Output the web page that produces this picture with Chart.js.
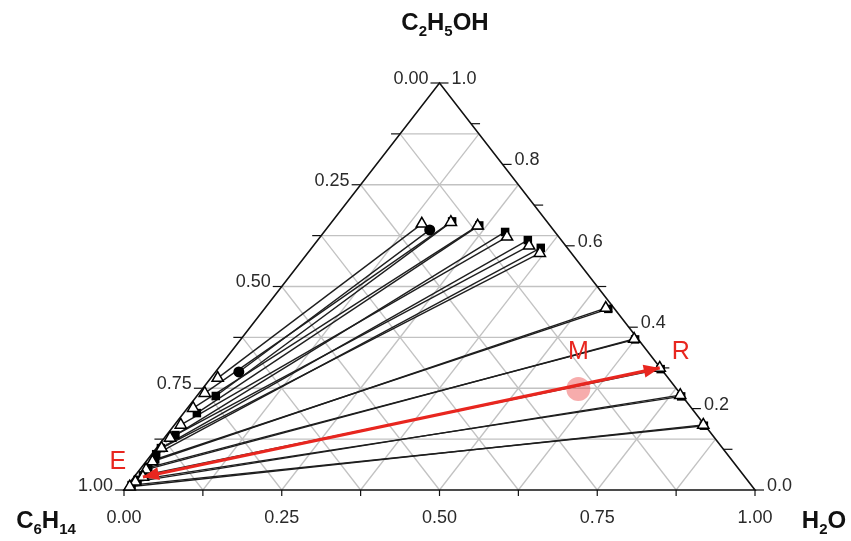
<!DOCTYPE html>
<html>
<head>
<meta charset="utf-8">
<script src="https://cdn.jsdelivr.net/npm/chart.js@4"></script>
<style>
  html, body { margin: 0; padding: 0; background: #fff; }
  #wrap { width: 851px; height: 541px; }
</style>
</head>
<body>
<div id="wrap"><canvas id="tern" width="851" height="541"></canvas></div>
<script>
// mass fractions (water, ethanol); hexane = 1 - water - ethanol
// experimental tie lines (open triangles)
const expRaffWater   = [0.145, 0.189, 0.236, 0.296, 0.342, 0.368, 0.540, 0.623, 0.699, 0.765, 0.838];
const expRaffEthanol = [0.654, 0.658, 0.649, 0.622, 0.600, 0.582, 0.447, 0.371, 0.300, 0.233, 0.160];
const expExtWater    = [0.011, 0.009, 0.009, 0.010, 0.009, 0.008, 0.010, 0.010, 0.014, 0.008, 0.005];
const expExtEthanol  = [0.275, 0.238, 0.201, 0.160, 0.128, 0.103, 0.070, 0.050, 0.032, 0.020, 0.008];
// calculated tie lines (filled squares)
const calcRaffWater   = [0.190, 0.238, 0.287, 0.333, 0.363, 0.545, 0.625, 0.702, 0.768, 0.840];
const calcRaffEthanol = [0.660, 0.650, 0.634, 0.614, 0.595, 0.445, 0.370, 0.297, 0.230, 0.158];
const calcExtWater    = [0.030, 0.021, 0.014, 0.007, 0.007, 0.012, 0.011, 0.012, 0.009, 0.006];
const calcExtEthanol  = [0.231, 0.189, 0.135, 0.103, 0.088, 0.075, 0.055, 0.036, 0.025, 0.012];
// other tie line (filled circles)
const litRaffWater = [0.165], litRaffEthanol = [0.639];
const litExtWater  = [0.037], litExtEthanol  = [0.290];
// mixture point M and the E-R line
const mixWater = [0.596], mixEthanol = [0.248];
const arrowWater = [0.014, 0.699], arrowEthanol = [0.032, 0.300];

const bottomTicks = ['0.00', '0.25', '0.50', '0.75', '1.00'];
const leftTicks   = ['1.00', '0.75', '0.50', '0.25', '0.00'];
const rightTicks  = ['0.0', '0.2', '0.4', '0.6', '0.8', '1.0'];

const RED = '#e8261f';
const toXY = (w, e) => ({ x: w + e / 2, y: e });

const datasets = [];
// E-R arrow line
datasets.push({
  data: arrowWater.map((w, i) => toXY(w, arrowEthanol[i])),
  showLine: true, borderColor: RED, borderWidth: 3.2, pointRadius: 0, order: 0
});
datasets.push({
  data: mixWater.map((w, i) => toXY(w, mixEthanol[i])),
  pointRadius: 12, pointBackgroundColor: 'rgba(238,70,70,0.45)', pointBorderWidth: 0, order: 1
});
// markers
const pts = (ws, es) => ws.map((w, i) => toXY(w, es[i]));
datasets.push({
  data: pts(expRaffWater, expRaffEthanol).concat(pts(expExtWater, expExtEthanol)),
  pointStyle: 'triangle', pointRadius: 6.5, pointBackgroundColor: '#fff',
  pointBorderColor: '#000', pointBorderWidth: 1.5, order: 2
});
datasets.push({
  data: pts(calcRaffWater, calcRaffEthanol).concat(pts(calcExtWater, calcExtEthanol)),
  pointStyle: 'rect', pointRadius: 6, pointBackgroundColor: '#000',
  pointBorderColor: '#000', pointBorderWidth: 0, order: 3
});
datasets.push({
  data: pts(litRaffWater, litRaffEthanol).concat(pts(litExtWater, litExtEthanol)),
  pointStyle: 'circle', pointRadius: 5.5, pointBackgroundColor: '#000',
  pointBorderColor: '#000', pointBorderWidth: 0, order: 3
});
// tie lines
function tie(rw, re, ew, ee) {
  rw.forEach((w, i) => {
    datasets.push({
      data: [toXY(ew[i], ee[i]), toXY(w, re[i])],
      showLine: true, borderColor: '#1e1e1e', borderWidth: 1.4, pointRadius: 0, order: 5
    });
  });
}
tie(expRaffWater, expRaffEthanol, expExtWater, expExtEthanol);
tie(calcRaffWater, calcRaffEthanol, calcExtWater, calcExtEthanol);
tie(litRaffWater, litRaffEthanol, litExtWater, litExtEthanol);

// formula with subscripts, parts = [[text, isSub], ...]
function chem(ctx, parts, cx, y) {
  const big = 'bold 24px "Liberation Sans", Arial, sans-serif';
  const small = 'bold 15px "Liberation Sans", Arial, sans-serif';
  let total = 0;
  parts.forEach(p => { ctx.font = p[1] ? small : big; total += ctx.measureText(p[0]).width; });
  let x = cx - total / 2;
  ctx.textAlign = 'left';
  ctx.textBaseline = 'alphabetic';
  parts.forEach(p => {
    ctx.font = p[1] ? small : big;
    ctx.fillText(p[0], x, p[1] ? y + 6 : y);
    x += ctx.measureText(p[0]).width;
  });
}

function arrowHead(ctx, tip, from) {
  const ang = Math.atan2(tip[1] - from[1], tip[0] - from[0]);
  const len = 16, half = 6.5;
  ctx.beginPath();
  ctx.moveTo(tip[0], tip[1]);
  ctx.lineTo(tip[0] - len * Math.cos(ang) + half * Math.sin(ang), tip[1] - len * Math.sin(ang) - half * Math.cos(ang));
  ctx.lineTo(tip[0] - len * Math.cos(ang) - half * Math.sin(ang), tip[1] - len * Math.sin(ang) + half * Math.cos(ang));
  ctx.closePath();
  ctx.fill();
}

const ternary = {
  id: 'ternary',
  beforeDatasetsDraw(chart) {
    const { ctx, scales: { x, y } } = chart;
    const P = (w, e) => [x.getPixelForValue(w + e / 2), y.getPixelForValue(e)];
    const seg = (a, b) => { ctx.beginPath(); ctx.moveTo(a[0], a[1]); ctx.lineTo(b[0], b[1]); ctx.stroke(); };
    ctx.save();
    // grid every 1/8
    ctx.strokeStyle = '#c2c2c2';
    ctx.lineWidth = 1.3;
    for (let k = 1; k < 8; k++) {
      const f = k / 8;
      seg(P(0, f), P(1 - f, f));
      seg(P(f, 0), P(f, 1 - f));
      seg(P(1 - f, 0), P(0, 1 - f));
    }
    // frame
    ctx.strokeStyle = '#111';
    ctx.lineWidth = 1.6;
    ctx.beginPath();
    const a = P(0, 0), b = P(1, 0), c = P(0, 1);
    ctx.moveTo(a[0], a[1]); ctx.lineTo(b[0], b[1]); ctx.lineTo(c[0], c[1]); ctx.closePath();
    ctx.stroke();
    // ticks
    ctx.lineWidth = 1.2;
    for (let k = 0; k <= 8; k++) {
      const p = P(k / 8, 0);
      seg(p, [p[0], p[1] + 6]);
      const q = P(0, k / 8);
      seg(q, [q[0] - 9, q[1]]);
    }
    for (let k = 0; k <= 10; k++) {
      const r = P(1 - k / 10, k / 10);
      seg(r, [r[0] + 9, r[1]]);
    }
    // tick labels
    ctx.fillStyle = '#2a2a2a';
    ctx.font = '18px "Liberation Sans", Arial, sans-serif';
    ctx.textBaseline = 'middle';
    ctx.textAlign = 'center';
    bottomTicks.forEach((t, i) => { const p = P(i / 4, 0); ctx.fillText(t, p[0], p[1] + 28); });
    ctx.textAlign = 'right';
    leftTicks.forEach((t, i) => { const p = P(0, i / 4); ctx.fillText(t, p[0] - 11, p[1] - 4); });
    ctx.textAlign = 'left';
    rightTicks.forEach((t, i) => { const p = P(1 - i / 5, i / 5); ctx.fillText(t, p[0] + 12, p[1] - 4); });
    // component names
    ctx.fillStyle = '#111';
    chem(ctx, [['C', 0], ['2', 1], ['H', 0], ['5', 1], ['OH', 0]], 445, 30);
    chem(ctx, [['C', 0], ['6', 1], ['H', 0], ['14', 1]], 46, 528);
    chem(ctx, [['H', 0], ['2', 1], ['O', 0]], 824, 528);
    ctx.restore();
  },
  afterDatasetsDraw(chart) {
    const { ctx, scales: { x, y } } = chart;
    const P = (w, e) => [x.getPixelForValue(w + e / 2), y.getPixelForValue(e)];
    ctx.save();
    ctx.fillStyle = RED;
    const e0 = P(arrowWater[0], arrowEthanol[0]);
    const r0 = P(arrowWater[1], arrowEthanol[1]);
    arrowHead(ctx, r0, e0);
    arrowHead(ctx, e0, r0);
    ctx.font = '25px "Liberation Sans", Arial, sans-serif';
    ctx.textAlign = 'center';
    ctx.textBaseline = 'middle';
    const m = P(mixWater[0], mixEthanol[0]);
    ctx.fillText('M', m[0], m[1] - 37);
    ctx.fillText('R', r0[0] + 21, r0[1] - 16);
    ctx.fillText('E', e0[0] - 25, e0[1] - 15);
    ctx.restore();
  }
};

new Chart(document.getElementById('tern'), {
  type: 'scatter',
  data: { datasets },
  options: {
    responsive: false,
    animation: false,
    clip: false,
    layout: { padding: { left: 124, right: 96, top: 83, bottom: 51 } },
    scales: {
      x: { type: 'linear', min: 0, max: 1, display: false },
      y: { type: 'linear', min: 0, max: 1, display: false }
    },
    plugins: { legend: { display: false }, tooltip: { enabled: false } }
  },
  plugins: [ternary]
});
</script>
</body>
</html>
